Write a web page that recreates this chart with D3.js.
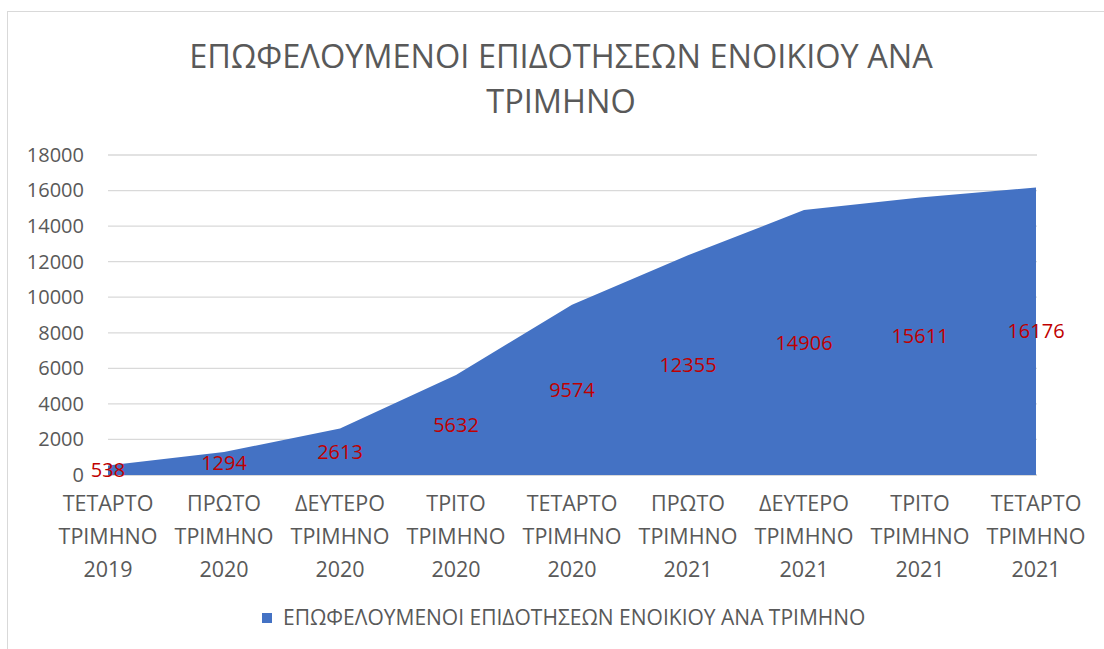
<!DOCTYPE html>
<html>
<head>
<meta charset="utf-8">
<script src="https://cdn.jsdelivr.net/npm/d3@7"></script>
<style>
  body { margin: 0; background: #fff; }
  text { font-family: "Open Sans", sans-serif; }
</style>
</head>
<body>
<script>
// quarters and beneficiaries per quarter
var quarters = [
    ['ΤΕΤΑΡΤΟ', 'ΤΡΙΜΗΝΟ', '2019'],
    ['ΠΡΩΤΟ', 'ΤΡΙΜΗΝΟ', '2020'],
    ['ΔΕΥΤΕΡΟ', 'ΤΡΙΜΗΝΟ', '2020'],
    ['ΤΡΙΤΟ', 'ΤΡΙΜΗΝΟ', '2020'],
    ['ΤΕΤΑΡΤΟ', 'ΤΡΙΜΗΝΟ', '2020'],
    ['ΠΡΩΤΟ', 'ΤΡΙΜΗΝΟ', '2021'],
    ['ΔΕΥΤΕΡΟ', 'ΤΡΙΜΗΝΟ', '2021'],
    ['ΤΡΙΤΟ', 'ΤΡΙΜΗΝΟ', '2021'],
    ['ΤΕΤΑΡΤΟ', 'ΤΡΙΜΗΝΟ', '2021']
];
var beneficiaries = [538, 1294, 2613, 5632, 9574, 12355, 14906, 15611, 16176];
var yTicks = [0, 2000, 4000, 6000, 8000, 10000, 12000, 14000, 16000, 18000];
var seriesName = 'ΕΠΩΦΕΛΟΥΜΕΝΟΙ ΕΠΙΔΟΤΗΣΕΩΝ ΕΝΟΙΚΙΟΥ ΑΝΑ ΤΡΙΜΗΝΟ';
var titleLines = ['ΕΠΩΦΕΛΟΥΜΕΝΟΙ ΕΠΙΔΟΤΗΣΕΩΝ ΕΝΟΙΚΙΟΥ ΑΝΑ', 'ΤΡΙΜΗΝΟ'];

var data = beneficiaries.map(function (v, i) { return { key: i, value: v }; });

var svg = d3.select('body')
    .append('svg')
    .attr('width', 1104)
    .attr('height', 649);

// chart frame
svg.append('rect')
    .attr('x', 7.5).attr('y', 11.5)
    .attr('width', 1110).attr('height', 650)
    .attr('fill', '#fff')
    .attr('stroke', '#d9d9d9');

var x = d3.scalePoint()
    .domain(d3.range(quarters.length))
    .range([108, 1036]);

var y = d3.scaleLinear()
    .domain([0, 18000])
    .range([475, 155]);

// title
svg.append('g')
    .selectAll('text')
    .data(titleLines)
    .enter()
    .append('text')
    .attr('x', 561)
    .attr('y', function (d, i) { return 68 + i * 45; })
    .attr('text-anchor', 'middle')
    .attr('font-size', 32.5)
    .attr('fill', '#595959')
    .text(function (d) { return d; });

// gridlines
svg.append('g')
    .selectAll('line')
    .data(yTicks)
    .enter()
    .append('line')
    .attr('x1', 108).attr('x2', 1037)
    .attr('y1', function (d) { return y(d); })
    .attr('y2', function (d) { return y(d); })
    .attr('stroke', '#d9d9d9')
    .attr('stroke-width', function (d) { return d === 0 ? 2 : 1.3; });

// y axis labels
var yAxis = svg.append('g')
    .attr('transform', 'translate(108,0)')
    .call(d3.axisLeft(y).tickValues(yTicks).tickFormat(d3.format('d')).tickSize(0).tickPadding(24));
yAxis.select('.domain').remove();
yAxis.selectAll('text')
    .attr('font-family', '"Open Sans", sans-serif')
    .attr('font-size', 20)
    .attr('fill', '#595959');

// area
var area = d3.area()
    .x(function (d) { return x(d.key); })
    .y0(y(0))
    .y1(function (d) { return y(d.value); });

svg.append('path')
    .datum(data)
    .attr('d', area)
    .attr('fill', '#4472c4');

// data labels at the middle of the area
svg.append('g')
    .selectAll('text')
    .data(data)
    .enter()
    .append('text')
    .attr('x', function (d) { return x(d.key); })
    .attr('y', function (d) { return y(d.value / 2); })
    .attr('dy', '0.35em')
    .attr('text-anchor', 'middle')
    .attr('font-size', 20)
    .attr('fill', '#c00000')
    .text(function (d) { return d.value; });

// category labels
var cat = svg.append('g')
    .selectAll('text')
    .data(quarters)
    .enter()
    .append('text')
    .attr('x', function (d, i) { return x(i); })
    .attr('y', 511)
    .attr('text-anchor', 'middle')
    .attr('font-size', 21.5)
    .attr('fill', '#595959');
cat.selectAll('tspan')
    .data(function (d) { return d; })
    .enter()
    .append('tspan')
    .attr('x', function () { return d3.select(this.parentNode).attr('x'); })
    .attr('dy', function (d, i) { return i === 0 ? 0 : 33; })
    .text(function (d) { return d; });

// legend
var legend = svg.append('g').attr('class', 'legend');
legend.append('rect')
    .attr('x', 262).attr('y', 613)
    .attr('width', 10).attr('height', 10)
    .attr('fill', '#4472c4');
legend.append('text')
    .attr('x', 283).attr('y', 625)
    .attr('font-size', 21)
    .attr('fill', '#595959')
    .text(seriesName);
</script>
</body>
</html>
